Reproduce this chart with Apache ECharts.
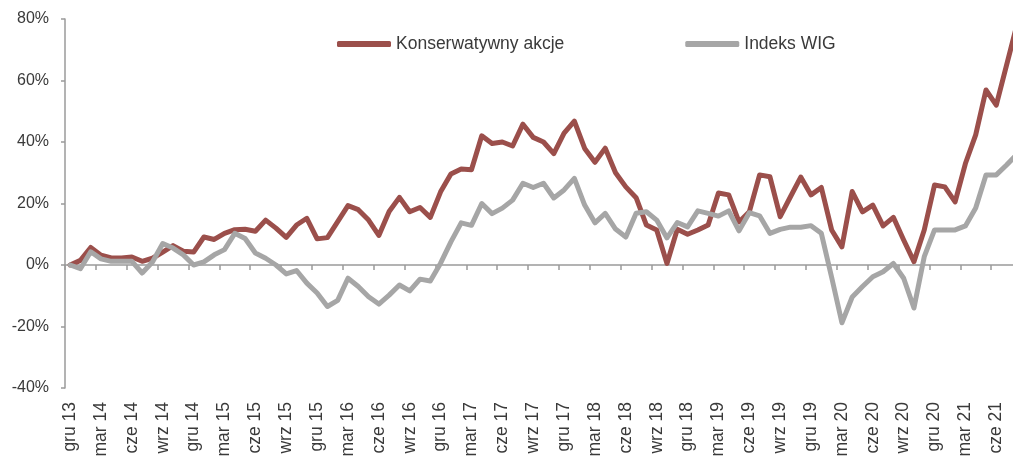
<!DOCTYPE html>
<html>
<head>
<meta charset="utf-8">
<script src="https://cdn.jsdelivr.net/npm/echarts@6/dist/echarts.min.js"></script>
<style>
    html, body { margin: 0; padding: 0; background: #fff; }
    #myChart { width: 1013px; height: 456px; }
</style>
</head>
<body>
<div id="myChart"></div>
<script>
    // miesiące gru 13 .. sie 21
    var months = [
        'gru 13',
        'sty 14', 'lut 14', 'mar 14', 'kwi 14', 'maj 14', 'cze 14', 'lip 14', 'sie 14', 'wrz 14', 'paź 14', 'lis 14', 'gru 14',
        'sty 15', 'lut 15', 'mar 15', 'kwi 15', 'maj 15', 'cze 15', 'lip 15', 'sie 15', 'wrz 15', 'paź 15', 'lis 15', 'gru 15',
        'sty 16', 'lut 16', 'mar 16', 'kwi 16', 'maj 16', 'cze 16', 'lip 16', 'sie 16', 'wrz 16', 'paź 16', 'lis 16', 'gru 16',
        'sty 17', 'lut 17', 'mar 17', 'kwi 17', 'maj 17', 'cze 17', 'lip 17', 'sie 17', 'wrz 17', 'paź 17', 'lis 17', 'gru 17',
        'sty 18', 'lut 18', 'mar 18', 'kwi 18', 'maj 18', 'cze 18', 'lip 18', 'sie 18', 'wrz 18', 'paź 18', 'lis 18', 'gru 18',
        'sty 19', 'lut 19', 'mar 19', 'kwi 19', 'maj 19', 'cze 19', 'lip 19', 'sie 19', 'wrz 19', 'paź 19', 'lis 19', 'gru 19',
        'sty 20', 'lut 20', 'mar 20', 'kwi 20', 'maj 20', 'cze 20', 'lip 20', 'sie 20', 'wrz 20', 'paź 20', 'lis 20', 'gru 20',
        'sty 21', 'lut 21', 'mar 21', 'kwi 21', 'maj 21', 'cze 21', 'lip 21', 'sie 21'
    ]

    // Konserwatywny akcje, %
    var konserwatywny = [
        0, 1.5, 5.7, 3.2, 2.3, 2.3, 2.6, 1.2, 2.2, 4.2, 6.3, 4.5, 4.2,
        9.1, 8.3, 10.3, 11.5, 11.6, 11, 14.6, 12, 9, 13, 15.2, 8.5,
        8.9, 14.1, 19.3, 18, 14.6, 9.6, 17.4, 22, 17.3, 18.7, 15.5, 23.8,
        29.6, 31.2, 31, 42, 39.5, 40, 38.7, 45.8, 41.5, 40, 36.2, 42.9,
        46.8, 37.9, 33.4, 38, 30, 25.4, 21.9, 13, 11.4, 0.5, 11.6, 10,
        11.4, 13, 23.4, 22.8, 14, 17.3, 29.3, 28.7, 15.7, 22.2, 28.6, 22.8,
        25.2, 11.4, 5.9, 23.9, 17.3, 19.5, 12.7, 15.5, 8.1, 1.1, 11.4, 26,
        25.4, 20.5, 33, 42.3, 56.9, 52, 65, 78
    ]

    // Indeks WIG, %
    var wig = [
        0, -1.2, 4.3, 2, 1.2, 1.2, 1.2, -2.6, 1, 7, 5.5, 3.3, 0,
        1, 3.3, 5, 10.3, 8.6, 3.9, 2.2, 0, -2.9, -1.8, -5.9, -9.1,
        -13.5, -11.5, -4.3, -7, -10.3, -12.7, -9.8, -6.5, -8.4, -4.6, -5.2, 0.6,
        7.5, 13.7, 12.9, 20, 16.7, 18.5, 21.1, 26.6, 25.2, 26.6, 21.8, 24.4,
        28.2, 19.5, 13.7, 16.8, 11.7, 9.1, 16.8, 17.3, 14.6, 8.8, 13.8, 12.4,
        17.6, 16.8, 15.9, 17.6, 11.1, 17, 16, 10.3, 11.6, 12.3, 12.3, 12.8,
        10.3, -4, -18.8, -10.4, -7, -3.8, -2.2, 0.5, -4.3, -14, 2.7, 11.4,
        11.4, 11.4, 12.7, 18.5, 29.3, 29.3, 32.5, 36
    ]

    var yTicks = { min: -40, max: 80, step: 20 }

    var fontFam = '"Liberation Sans", Arial, sans-serif'
    var textColor = '#3a3a3a'
    var axisColor = '#9a9a9a'

    var myChart = echarts.init(document.getElementById('myChart'))
    myChart.setOption({
        animation: false,
        textStyle: { fontFamily: fontFam },
        legend: {
            left: 332,
            top: 30,
            itemWidth: 54,
            itemHeight: 6,
            itemGap: 121,
            textStyle: { fontSize: 17.5, color: textColor, fontFamily: fontFam },
            data: [
                { name: 'Konserwatywny akcje', icon: 'roundRect' },
                { name: 'Indeks WIG', icon: 'roundRect' }
            ]
        },
        grid: {
            left: 65,
            top: 19,
            right: -9,
            bottom: 68,
            outerBoundsMode: 'none'
        },
        xAxis: [{
            type: 'category',
            data: months,
            boundaryGap: true,
            axisLine: {
                onZero: true,
                lineStyle: { color: axisColor, width: 1.5 }
            },
            axisTick: {
                show: true,
                interval: 2,
                length: 5,
                lineStyle: { color: axisColor, width: 1.5 }
            },
            axisLabel: { show: false },
            splitLine: { show: false }
        }, {
            type: 'category',
            data: months,
            boundaryGap: true,
            position: 'bottom',
            axisLine: { show: false, onZero: false },
            axisTick: { show: false },
            axisLabel: {
                interval: 2,
                rotate: 90,
                margin: 14,
                fontSize: 17.5,
                color: textColor,
                fontFamily: fontFam
            },
            splitLine: { show: false }
        }],
        yAxis: {
            type: 'value',
            min: yTicks.min,
            max: yTicks.max,
            interval: yTicks.step,
            axisLine: {
                show: true,
                lineStyle: { color: axisColor, width: 1.5 }
            },
            axisTick: {
                show: true,
                length: 4,
                lineStyle: { color: axisColor, width: 1.5 }
            },
            axisLabel: {
                formatter: '{value}%',
                margin: 16,
                fontSize: 16,
                color: textColor,
                fontFamily: fontFam
            },
            splitLine: { show: false }
        },
        series: [{
            name: 'Konserwatywny akcje',
            type: 'line',
            data: konserwatywny,
            symbol: 'none',
            color: '#9b4f4b',
            lineStyle: { width: 5, color: '#9b4f4b', join: 'round', cap: 'round' }
        }, {
            name: 'Indeks WIG',
            type: 'line',
            data: wig,
            symbol: 'none',
            color: '#a6a6a6',
            lineStyle: { width: 5, color: '#a6a6a6', join: 'round', cap: 'round' }
        }]
    })
</script>
</body>
</html>
